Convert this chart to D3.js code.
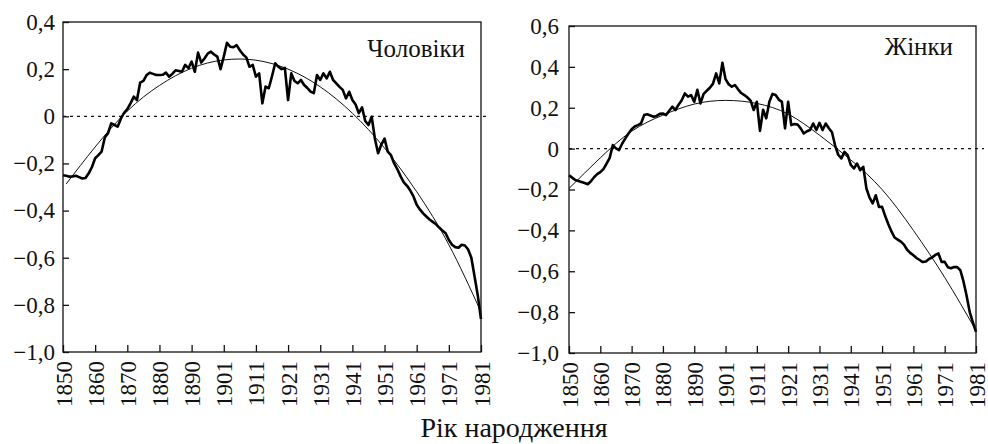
<!DOCTYPE html>
<html>
<head>
<meta charset="utf-8">
<script src="https://cdn.jsdelivr.net/npm/d3@7"></script>
<style>
  body { margin: 0; background: #fff; }
  svg { display: block; }
</style>
</head>
<body>
<svg id="chart" width="988" height="444"></svg>
<script>
var serif = "Liberation Serif, Times New Roman, serif";

// tick labels on x (one every 10 points)
var xLabels = ["1850","1860","1870","1880","1890","1901","1911","1921","1931","1941","1951","1961","1971","1981"];
var maleTicks = [0.4, 0.2, 0, -0.2, -0.4, -0.6, -0.8, -1.0];
var femaleTicks = [0.6, 0.4, 0.2, 0, -0.2, -0.4, -0.6, -0.8, -1.0];

// observed values, one per point (index 0..130)
var maleObs = [
  -0.250,-0.252,-0.256,-0.255,-0.252,-0.258,-0.264,-0.262,-0.242,-0.215,
  -0.178,-0.165,-0.150,-0.090,-0.072,-0.030,-0.037,-0.044,-0.010, 0.015,
   0.030, 0.055, 0.083, 0.069, 0.143, 0.150, 0.175, 0.185, 0.180, 0.175,
   0.175, 0.176, 0.185, 0.168, 0.180, 0.195, 0.192, 0.189, 0.218, 0.204,
   0.232, 0.189, 0.270, 0.228, 0.245, 0.266, 0.274, 0.262, 0.253, 0.200,
   0.253, 0.312, 0.295, 0.293, 0.302, 0.280, 0.262, 0.250, 0.210, 0.218,
   0.168, 0.182, 0.055, 0.126, 0.119, 0.170, 0.225, 0.210, 0.200, 0.205,
   0.069, 0.182, 0.150, 0.140, 0.154, 0.133, 0.120, 0.105, 0.098, 0.175,
   0.154, 0.182, 0.161, 0.189, 0.154, 0.140, 0.125, 0.112, 0.076, 0.104,
   0.069, 0.050, 0.013, 0.038,-0.020,-0.037,-0.002,-0.095,-0.157,-0.120,
  -0.095,-0.150,-0.165,-0.200,-0.225,-0.255,-0.280,-0.295,-0.315,-0.340,
  -0.375,-0.395,-0.412,-0.425,-0.438,-0.448,-0.458,-0.472,-0.485,-0.496,
  -0.525,-0.545,-0.555,-0.558,-0.545,-0.548,-0.565,-0.600,-0.680,-0.760,
  -0.860
];

var femaleObs = [
  -0.130,-0.142,-0.154,-0.158,-0.163,-0.168,-0.174,-0.160,-0.140,-0.125,
  -0.115,-0.100,-0.073,-0.045, 0.017, 0.001,-0.007, 0.025, 0.050, 0.074,
   0.095, 0.108, 0.115, 0.123, 0.164, 0.168, 0.162, 0.156, 0.160, 0.170,
   0.172, 0.164, 0.185, 0.205, 0.189, 0.215, 0.237, 0.270, 0.254, 0.262,
   0.229, 0.288, 0.221, 0.268, 0.283, 0.298, 0.318, 0.368, 0.319, 0.420,
   0.340, 0.315, 0.303, 0.311, 0.290, 0.272, 0.262, 0.250, 0.235, 0.189,
   0.229, 0.087, 0.190, 0.148, 0.229, 0.268, 0.262, 0.240, 0.229, 0.099,
   0.229, 0.115, 0.120, 0.118, 0.099, 0.074, 0.085, 0.091, 0.123, 0.091,
   0.126, 0.091, 0.123, 0.100, 0.080, 0.015,-0.030,-0.048,-0.016,-0.032,
  -0.080,-0.097,-0.073,-0.105,-0.089,-0.195,-0.240,-0.268,-0.228,-0.285,
  -0.285,-0.330,-0.370,-0.405,-0.435,-0.445,-0.455,-0.470,-0.495,-0.510,
  -0.522,-0.535,-0.545,-0.555,-0.552,-0.540,-0.532,-0.520,-0.513,-0.554,
  -0.554,-0.580,-0.585,-0.579,-0.580,-0.595,-0.650,-0.720,-0.800,-0.850,
  -0.897
];

// smooth trend lines, read at a few points
var maleFitIdx = [1, 10, 20, 30, 40, 50, 60, 70, 80, 90, 100, 110, 120, 130];
var maleFit = [-0.287, -0.130, 0.022, 0.131, 0.204, 0.239, 0.238, 0.200, 0.125, 0.013, -0.135, -0.320, -0.545, -0.830];
var femaleFitIdx = [0, 10, 20, 30, 40, 50, 60, 70, 80, 90, 100, 110, 120, 130];
var femaleFit = [-0.195, -0.045, 0.085, 0.164, 0.218, 0.236, 0.221, 0.169, 0.066, -0.055, -0.200, -0.400, -0.630, -0.890];

var svg = d3.select("#chart")
  .attr("font-family", serif);

function fmt(d) {
  if (d === 0) return "0";
  return d3.format(".1f")(d).replace(".", ",").replace("-", "\u2212");
}

function drawPanel(p) {
  var x = d3.scaleLinear().domain([0, 130]).range([p.left, p.right]);
  var y = d3.scaleLinear().domain(p.yDomain).range([p.bottom, p.top]);
  var g = svg.append("g");

  // zero reference line
  g.append("line")
    .attr("x1", p.left).attr("x2", p.right + 8)
    .attr("y1", y(0)).attr("y2", y(0))
    .attr("stroke", "#111").attr("stroke-width", 1.2)
    .attr("stroke-dasharray", "3,4");

  // fitted curve
  var fitLine = d3.line()
    .x(function(d, i) { return x(p.fitIdx[i]); })
    .y(function(d) { return y(d); })
    .curve(d3.curveNatural);
  g.append("path").datum(p.fit)
    .attr("d", fitLine)
    .attr("fill", "none").attr("stroke", "#111").attr("stroke-width", 1);

  // observed series
  var obsLine = d3.line()
    .x(function(d, i) { return x(i); })
    .y(function(d) { return y(d); });
  g.append("path").datum(p.obs)
    .attr("d", obsLine)
    .attr("fill", "none").attr("stroke", "#000")
    .attr("stroke-width", 2.6).attr("stroke-linejoin", "round");

  // y axis
  var ya = g.append("g")
    .attr("transform", "translate(" + p.left + ",0)")
    .call(d3.axisLeft(y).tickValues(p.ticks).tickFormat(fmt)
      .tickSizeInner(-6).tickSizeOuter(0).tickPadding(p.yPad));
  ya.attr("font-family", serif).attr("font-size", 23);
  ya.select(".domain").remove();
  ya.selectAll(".tick line").attr("stroke", "#111").attr("stroke-width", 1.3);
  ya.selectAll("text").attr("fill", "#111");

  // x axis
  var xa = g.append("g")
    .attr("transform", "translate(0," + p.bottom + ")")
    .call(d3.axisBottom(x).tickValues(d3.range(0, 131, 10))
      .tickFormat(function(d, i) { return xLabels[i]; })
      .tickSizeInner(-7).tickSizeOuter(0));
  xa.attr("font-family", serif).attr("font-size", 23);
  xa.select(".domain").remove();
  xa.selectAll(".tick line").attr("stroke", "#111").attr("stroke-width", 1.3);
  xa.selectAll("text")
    .attr("fill", "#111")
    .attr("transform", "rotate(-90)")
    .attr("text-anchor", "end")
    .attr("x", -9).attr("y", 0).attr("dy", "0.35em");

  // frame
  g.append("rect")
    .attr("x", p.left).attr("y", p.top)
    .attr("width", p.right - p.left).attr("height", p.bottom - p.top)
    .attr("fill", "none").attr("stroke", "#111").attr("stroke-width", 1.3);

  g.append("text")
    .attr("x", p.labelX).attr("y", p.labelY)
    .attr("text-anchor", "end")
    .attr("font-size", 25)
    .attr("fill", "#111")
    .text(p.label);
}

drawPanel({
  left: 63, right: 481, top: 22, bottom: 352,
  yDomain: [-1.0, 0.4], ticks: maleTicks, yPad: 8,
  obs: maleObs, fit: maleFit, fitIdx: maleFitIdx,
  label: "Чоловіки", labelX: 465, labelY: 57
});

drawPanel({
  left: 569, right: 976, top: 26, bottom: 353,
  yDomain: [-1.0, 0.6], ticks: femaleTicks, yPad: 10,
  obs: femaleObs, fit: femaleFit, fitIdx: femaleFitIdx,
  label: "Жінки", labelX: 953, labelY: 55
});

svg.append("text")
  .attr("x", 514).attr("y", 437)
  .attr("text-anchor", "middle")
  .attr("font-size", 28)
  .attr("fill", "#111")
  .text("Рік народження");
</script>
</body>
</html>
